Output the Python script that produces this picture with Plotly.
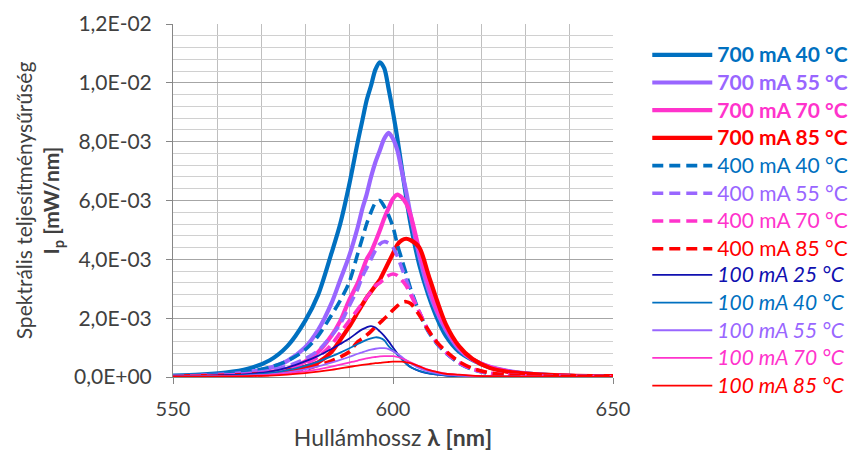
import plotly.graph_objects as go

# ---------------- data ----------------
WAVELENGTH = [550, 556, 562, 567, 572, 576, 580, 583, 586, 588, 590, 592, 593, 594, 595, 596, 597, 598,
              599, 600, 601, 602, 603, 604, 606, 608, 610, 612, 615, 618, 622, 626, 632, 640, 650]

I_700_40 = [0.00005, 0.00008, 0.00015, 0.00028, 0.00057, 0.00105, 0.0019, 0.0028, 0.0042, 0.0052, 0.0065,
            0.0080, 0.0087, 0.0094, 0.0099, 0.01045, 0.0107, 0.0105, 0.0098, 0.0090, 0.0081, 0.0071, 0.0061,
            0.0052, 0.0038, 0.0028, 0.0020, 0.0014, 0.00086, 0.00058, 0.00032, 0.00019, 0.0001, 0.00004, 0.00002]
I_700_55 = [0.00003, 0.00005, 0.00009, 0.00016, 0.00031, 0.00055, 0.001, 0.0016, 0.0025, 0.0033, 0.0041,
            0.0051, 0.0057, 0.0062, 0.0068, 0.0073, 0.0077, 0.0081, 0.0083, 0.0081, 0.0077, 0.0070, 0.0063,
            0.0055, 0.0041, 0.0030, 0.0022, 0.0016, 0.00095, 0.0006, 0.00035, 0.00021, 0.0001, 0.00004, 0.00002]
I_700_70 = [0.00002, 0.00003, 0.00006, 0.00009, 0.00017, 0.00028, 0.00052, 0.00085, 0.0014, 0.0019, 0.0026,
            0.0032, 0.0036, 0.0040, 0.00425, 0.0046, 0.00498, 0.00539, 0.00574, 0.00606, 0.0062, 0.0061, 0.0059,
            0.0055, 0.0043, 0.0032, 0.0023, 0.0017, 0.001, 0.0006, 0.00034, 0.00019, 0.00009, 0.00004, 0.00002]
I_700_85 = [0.00002, 0.00003, 0.00005, 0.00008, 0.00014, 0.00022, 0.00035, 0.0005, 0.00085, 0.00126, 0.0017,
            0.0022, 0.00245, 0.0027, 0.0029, 0.0031, 0.0033, 0.0036, 0.0039, 0.0042, 0.0045, 0.00465, 0.0047,
            0.00465, 0.0044, 0.0035, 0.0026, 0.0018, 0.00105, 0.00062, 0.00031, 0.00018, 0.0001, 0.00005, 0.00003]

I_400_40 = [0.00003, 0.00006, 0.0001, 0.00018, 0.00033, 0.00055, 0.00092, 0.0014, 0.0021, 0.0026, 0.0032,
            0.0042, 0.0047, 0.0052, 0.0056, 0.00592, 0.0060, 0.0058, 0.0055, 0.0051, 0.0045, 0.0040, 0.0035,
            0.0030, 0.0022, 0.00155, 0.00113, 0.00082, 0.00047, 0.00026, 0.00011, 0.00006, 0.00003, 0.00002, 0.00001]
I_400_55 = [0.00002, 0.00004, 0.00007, 0.00012, 0.00022, 0.00037, 0.00062, 0.0009, 0.0014, 0.0018, 0.0024,
            0.0030, 0.0034, 0.0037, 0.0040, 0.0043, 0.00452, 0.0046, 0.00455, 0.0044, 0.0041, 0.0037, 0.0033,
            0.0029, 0.0022, 0.00158, 0.00115, 0.00083, 0.00048, 0.00027, 0.00012, 0.00006, 0.00003, 0.00002, 0.00001]
I_400_70 = [0.00001, 0.00003, 0.00005, 0.00009, 0.00016, 0.00027, 0.00045, 0.00068, 0.0011, 0.0015, 0.0019,
            0.0023, 0.0025, 0.0027, 0.0029, 0.0031, 0.0032, 0.00335, 0.00345, 0.0035, 0.00345, 0.0033, 0.0031,
            0.0028, 0.0022, 0.0016, 0.00118, 0.00085, 0.0005, 0.00028, 0.00013, 0.00007, 0.00003, 0.00002, 0.00001]
I_400_85 = [0.00001, 0.00002, 0.00003, 0.00005, 0.00009, 0.00015, 0.00026, 0.0004, 0.00055, 0.00068, 0.00085,
            0.0012, 0.0013, 0.00142, 0.00155, 0.0017, 0.00184, 0.00198, 0.00212, 0.00228, 0.00242, 0.00253, 0.00256,
            0.0025, 0.0021, 0.0016, 0.00118, 0.00088, 0.00052, 0.0003, 0.00014, 0.00007, 0.00004, 0.00002, 0.00001]

I_100_25 = [0.00001, 0.00003, 0.00006, 0.0001, 0.00018, 0.00032, 0.00053, 0.00072, 0.00095, 0.00112, 0.0013,
            0.00152, 0.00162, 0.00169, 0.00173, 0.00168, 0.00155, 0.0014, 0.00121, 0.001, 0.0008, 0.00062, 0.00046,
            0.00034, 0.0002, 0.00012, 0.00008, 0.00005, 0.00003, 0.00002, 0.00001, 0.00001, 0.0, 0.0, 0.0]
I_100_40 = [0.00001, 0.00002, 0.00004, 0.00007, 0.00013, 0.00023, 0.00038, 0.00052, 0.0007, 0.00083, 0.00097,
            0.00112, 0.00119, 0.00126, 0.00131, 0.00135, 0.00133, 0.00125, 0.00105, 0.0009, 0.00075, 0.0006, 0.00045,
            0.00033, 0.00021, 0.00013, 0.00009, 0.00006, 0.00003, 0.00002, 0.00001, 0.00001, 0.0, 0.0, 0.0]
I_100_55 = [0.00001, 0.00002, 0.00003, 0.00005, 0.00009, 0.00016, 0.00026, 0.00036, 0.00049, 0.00058, 0.00068,
            0.00079, 0.00084, 0.00089, 0.00093, 0.00096, 0.00098, 0.00098, 0.00095, 0.00088, 0.00079, 0.00068, 0.00057,
            0.00047, 0.0003, 0.00019, 0.00012, 0.00008, 0.00005, 0.00003, 0.00002, 0.00001, 0.00001, 0.0, 0.0]
I_100_70 = [0.00001, 0.00001, 0.00002, 0.00004, 0.00007, 0.00012, 0.00019, 0.00026, 0.00035, 0.00042, 0.00049,
            0.00056, 0.0006, 0.00063, 0.00066, 0.00068, 0.0007, 0.00071, 0.00071, 0.00071, 0.00068, 0.00063, 0.00057,
            0.0005, 0.00036, 0.00025, 0.00017, 0.00011, 0.00007, 0.00004, 0.00002, 0.00001, 0.00001, 0.0, 0.0]
I_100_85 = [0.00001, 0.00001, 0.00002, 0.00003, 0.00005, 0.00008, 0.00013, 0.00018, 0.00024, 0.00029, 0.00034,
            0.00039, 0.00041, 0.00043, 0.00045, 0.00047, 0.00048, 0.0005, 0.00051, 0.00052, 0.00052, 0.00052, 0.0005,
            0.00047, 0.00036, 0.00024, 0.00017, 0.00011, 0.00008, 0.00005, 0.00003, 0.00002, 0.00001, 0.00001, 0.0]

SERIES_NAMES = ["700 mA 40 °C", "700 mA 55 °C", "700 mA 70 °C", "700 mA 85 °C",
                "400 mA 40 °C", "400 mA 55 °C", "400 mA 70 °C", "400 mA 85 °C",
                "100 mA 25 °C", "100 mA 40 °C", "100 mA 55 °C", "100 mA 70 °C", "100 mA 85 °C"]
SERIES_VALUES = [I_700_40, I_700_55, I_700_70, I_700_85,
                 I_400_40, I_400_55, I_400_70, I_400_85,
                 I_100_25, I_100_40, I_100_55, I_100_70, I_100_85]

Y_TICKS = [0.0, 0.002, 0.004, 0.006, 0.008, 0.010, 0.012]
Y_TICK_LABELS = ["0,0E+00", "2,0E-03", "4,0E-03", "6,0E-03", "8,0E-03", "1,0E-02", "1,2E-02"]
X_TICKS = [550, 600, 650]

# ---------------- styles ----------------
BLUE = "#0070C0"
PURPLE = "#9966FF"
PINK = "#FF33CC"
RED = "#FF0000"
NAVY = "#1010B0"
STYLES = [
    (BLUE, 4.2, "solid", "b"), (PURPLE, 4.2, "solid", "b"), (PINK, 4.2, "solid", "b"), (RED, 4.2, "solid", "b"),
    (BLUE, 3.6, "11px,6px", ""), (PURPLE, 3.6, "11px,6px", ""), (PINK, 3.6, "11px,6px", ""), (RED, 3.6, "11px,6px", ""),
    (NAVY, 1.8, "solid", "i"), (BLUE, 1.8, "solid", "i"), (PURPLE, 1.8, "solid", "i"), (PINK, 1.8, "solid", "i"), (RED, 1.8, "solid", "i"),
]

FONT = "Lato, 'Open Sans', sans-serif"
TXT = "#404040"

fig = go.Figure()
for i, (name, vals, (col, w, dash, tag)) in enumerate(zip(SERIES_NAMES, SERIES_VALUES, STYLES)):
    label = f"<span style='color:{col};font-size:21px'>{name}</span>"
    if tag:
        label = f"<{tag}>{label}</{tag}>"
    fig.add_trace(go.Scatter(
        x=WAVELENGTH, y=vals, mode="lines", name=label,
        legend="legend" if i < 8 else "legend2",
        line=dict(color=col, width=w, dash=dash, shape="spline", smoothing=0.8),
    ))

legend_common = dict(
    xref="container", yref="container", xanchor="left", yanchor="top",
    font=dict(size=19, family=FONT), itemwidth=60, tracegroupgap=0,
    bgcolor="rgba(0,0,0,0)",
)

fig.update_layout(
    width=850, height=455,
    margin=dict(l=173, r=237, t=24, b=78),
    paper_bgcolor="white", plot_bgcolor="white",
    font=dict(family=FONT, size=20, color=TXT),
    showlegend=True,
    legend=dict(x=0.7615, y=0.921, **legend_common),
    legend2=dict(x=0.7615, y=0.4374, **legend_common),
)

fig.update_xaxes(
    range=[550, 650], tickmode="array", tickvals=X_TICKS, ticktext=[str(v) for v in X_TICKS],
    showgrid=True, gridcolor="#BFBFBF", gridwidth=1,
    minor=dict(dtick=10, showgrid=True, gridcolor="#BFBFBF", gridwidth=1),
    showline=True, linecolor="#868686", linewidth=1,
    ticks="outside", ticklen=6, tickcolor="#868686",
    tickfont=dict(size=20, color=TXT, family=FONT),
    ticklabelstandoff=8,
    zeroline=False, automargin=False,
    title=dict(text="Hullámhossz <b>λ [nm]</b>", font=dict(size=23, color=TXT, family=FONT), standoff=10),
)
fig.update_yaxes(
    range=[0, 0.012], tickmode="array", tickvals=Y_TICKS, ticktext=Y_TICK_LABELS,
    showgrid=True, gridcolor="#A6A6A6", gridwidth=1,
    minor=dict(dtick=0.0004, showgrid=True, gridcolor="#D0D0D0", gridwidth=1),
    showline=True, linecolor="#868686", linewidth=1,
    ticks="outside", ticklen=6, tickcolor="#868686",
    tickfont=dict(size=21, color=TXT, family=FONT),
    ticklabelstandoff=10,
    zeroline=False, automargin=False,
    title=dict(text="Spektrális teljesítménysűrűség<br><b>I<sub>p</sub> [mW/nm]</b>",
               font=dict(size=21, color=TXT, family=FONT), standoff=8),
)

fig.write_html("out.html", config={"displayModeBar": False},
               post_script="document.body.style.margin='0px';")
